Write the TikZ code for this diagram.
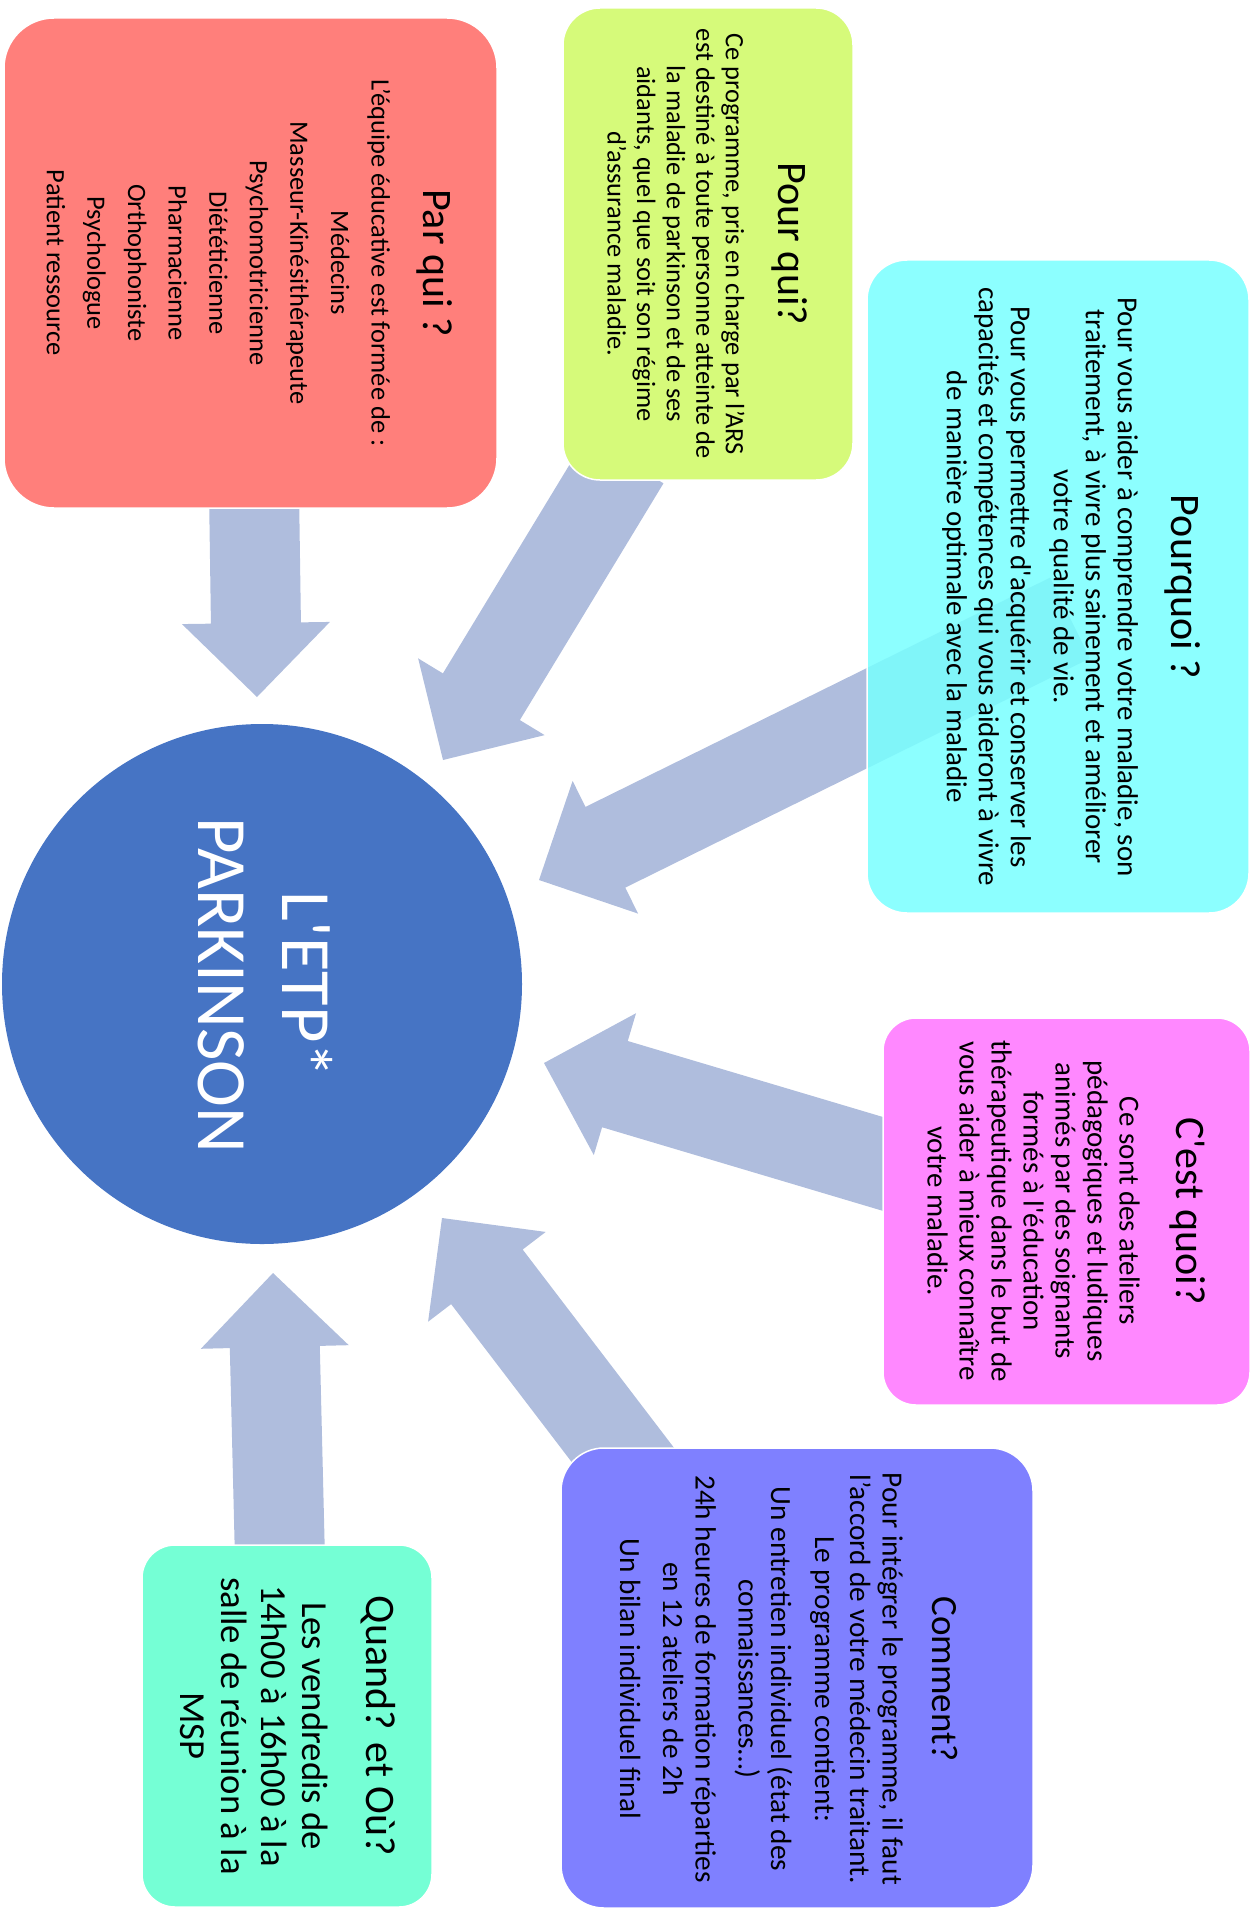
\documentclass[tikz,border=0pt]{standalone}
\usepackage{fontspec}
\setmainfont{Carlito}
\usetikzlibrary{calc}
\definecolor{parquired}{HTML}{FF7F7B}
\definecolor{pourquivert}{HTML}{D6FA7A}
\definecolor{pourquoicyan}{HTML}{78FFFF}
\definecolor{cestquoirose}{HTML}{FF88FF}
\definecolor{commentbleu}{HTML}{7F80FF}
\definecolor{quandvert}{HTML}{75FFD5}
\definecolor{etpbleu}{HTML}{4674C4}
\definecolor{flechebleu}{HTML}{AFBDDD}
\tikzset{
  boite/.style={rectangle,draw=white,line width=1.5pt,inner sep=0pt},
  titre/.style={rotate=-90,align=center,inner sep=0pt,font=\fontsize{42}{50}\selectfont},
  texte/.style={rotate=-90,align=center,inner sep=0pt},
  fleche/.style={fill=flechebleu}
}
% block arrow from #1 (start) to #2 (tip)
\newcommand{\grossefleche}[2]{%
  \coordinate (hb) at ($(#2)!74pt!(#1)$);
  \fill[fleche] ($(#1)!45pt!90:(#2)$) -- ($(hb)!45pt!-90:(#1)$) -- ($(hb)!74pt!-90:(#1)$) -- (#2)
    -- ($(hb)!74pt!90:(#1)$) -- ($(hb)!45pt!90:(#1)$) -- ($(#1)!45pt!-90:(#2)$) -- cycle;}

\begin{document}
\begin{tikzpicture}[x=1pt,y=-1pt]
\useasboundingbox (0,0) rectangle (1255,1910);

% arrows
\coordinate (s1) at (254,490);  \coordinate (t1) at (257,697);
\coordinate (s2) at (625,460);  \coordinate (t2) at (443,760);
\coordinate (s3) at (1070,618); \coordinate (t3) at (539,880);
\coordinate (s4) at (910,1172); \coordinate (t4) at (544,1063);
\coordinate (s5) at (642,1480); \coordinate (t5) at (442,1218);
\coordinate (s6) at (280,1560); \coordinate (t6) at (273,1273);
\grossefleche{s1}{t1}
\grossefleche{s2}{t2}
\grossefleche{s3}{t3}
\grossefleche{s4}{t4}
\grossefleche{s5}{t5}
\grossefleche{s6}{t6}

% boxes
\node[boite,fill=parquired,minimum width=493pt,minimum height=490pt,rounded corners=50pt] (parqui) at (250.5,263) {};
\node[boite,fill=pourquivert,minimum width=290pt,minimum height=472pt,rounded corners=37pt] (pourqui) at (708,244) {};
\node[boite,fill=pourquoicyan,fill opacity=0.85,minimum width=382pt,minimum height=653pt,rounded corners=40pt] (pourquoi) at (1058,586.5) {};
\node[boite,fill=cestquoirose,minimum width=367pt,minimum height=387pt,rounded corners=33pt] (cestquoi) at (1066.5,1211.5) {};
\node[boite,fill=commentbleu,minimum width=472pt,minimum height=460pt,rounded corners=43pt] (comment) at (797,1678) {};
\node[boite,fill=quandvert,minimum width=290pt,minimum height=362pt,rounded corners=33pt] (quand) at (287,1726) {};
\node[circle,fill=etpbleu,minimum size=520pt,inner sep=0pt] (etp) at (262,984) {};

% texts
\node[titre] (parquiT) at (435,263) {Par qui ?};
\node[texte,font=\fontsize{26.5}{40.6}\selectfont] (parquiB) at (218.5,263) {L’équipe éducative est formée de :\\Médecins\\Masseur-Kinésithérapeute\\Psychomotricienne\\Diététicienne\\Pharmacienne\\Orthophoniste\\Psychologue\\Patient ressource};

\node[titre] (pourquiT) at (790,244) {Pour qui?};
\node[texte,font=\fontsize{26.5}{29.6}\selectfont] (pourquiB) at (676,244) {Ce programme, pris en charge par l’ARS\\est destiné à toute personne atteinte de\\la maladie de parkinson et de ses\\aidants, quel que soit son régime\\d’assurance maladie.};

\node[titre] (pourquoiT) at (1183,587) {Pourquoi ?};
\node[texte,font=\fontsize{29}{32}\selectfont] (pourquoiB) at (1040,587) {Pour vous aider à comprendre votre maladie, son\\traitement, à vivre plus sainement et améliorer\\votre qualité de vie.\\[11pt]Pour vous permettre d\textquotesingle acquérir et conserver les\\capacités et compétences qui vous aideront à vivre\\de manière optimale avec la maladie};

\node[titre] (cestquoiT) at (1188,1211) {C\textquotesingle est quoi?};
\node[texte,font=\fontsize{29}{32}\selectfont] (cestquoiB) at (1033.5,1211) {Ce sont des ateliers\\pédagogiques et ludiques\\animés par des soignants\\formés à l\textquotesingle éducation\\thérapeutique dans le but de\\vous aider à mieux connaître\\votre maladie.};

\node[titre,font=\fontsize{37}{44}\selectfont] (commentT) at (945,1679) {Comment?};
\node[texte,font=\fontsize{29.3}{32.5}\selectfont] (commentB) at (761.5,1679) {Pour intégrer le programme, il faut\\l’accord de votre médecin traitant.\\[2.5pt]Le programme contient:\\[11.5pt]Un entretien individuel (état des\\connaissances…)\\[10.5pt]24h heures de formation réparties\\en 12 ateliers de 2h\\[10.5pt]Un bilan individuel final};

\node[titre] (quandT) at (378,1726) {Quand? et Où?};
\node[texte,font=\fontsize{36.7}{40.7}\selectfont] (quandB) at (254,1726) {Les vendredis de\\14h00 à 16h00 à la\\salle de réunion à la\\MSP};

\node[texte,text=white,font=\fontsize{70.7}{84}\selectfont] (etpT) at (265,985) {L\textquotesingle ETP*\\PARKINSON};
\end{tikzpicture}
\end{document}
